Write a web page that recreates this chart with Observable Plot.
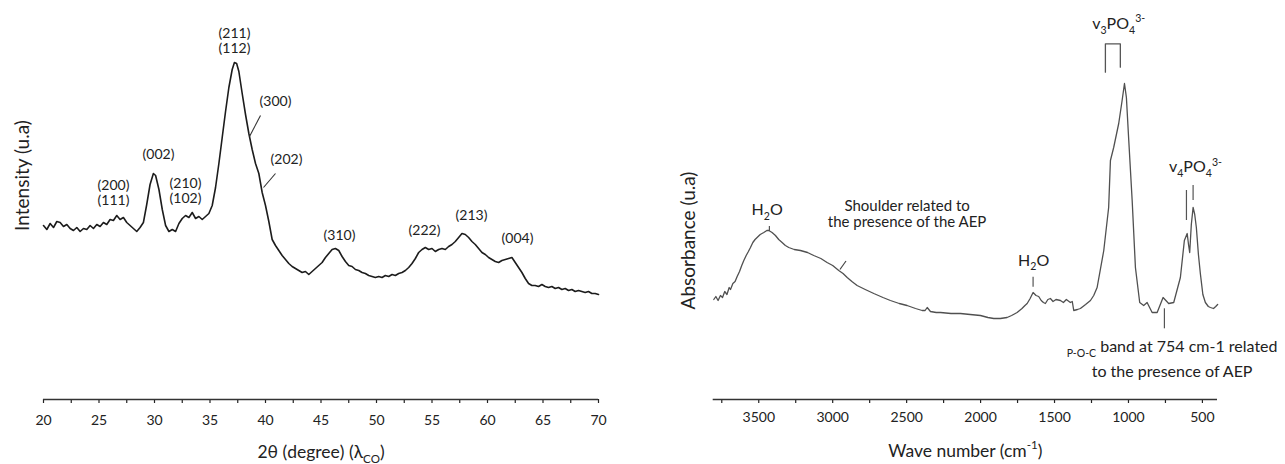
<!DOCTYPE html>
<html><head><meta charset="utf-8">
<script src="https://cdn.jsdelivr.net/npm/d3@7"></script>
<script src="https://cdn.jsdelivr.net/npm/@observablehq/plot@0.6"></script>
<style>
html,body{margin:0;padding:0;background:#fff;}
#wrap{display:flex;width:1285px;height:464px;overflow:hidden;}
</style></head><body><div id="wrap"></div>
<script>
// ---------- XRD (left) ----------
const xrdTheta = [20.0,20.3,20.6,20.9,21.2,21.5,21.8,22.1,22.4,22.7,23.0,23.3,23.6,23.9,24.2,24.5,24.8,25.1,25.4,25.7,26.0,26.3,26.6,26.9,27.2,27.5,27.8,28.1,28.4,28.7,29.0,29.3,29.6,29.9,30.1,30.4,30.7,31.0,31.3,31.6,31.9,32.2,32.5,32.8,33.1,33.4,33.7,34.0,34.3,34.6,34.9,35.2,35.5,35.8,36.1,36.4,36.7,37.0,37.2,37.4,37.6,37.9,38.2,38.5,38.8,39.1,39.4,39.7,40.0,40.3,40.6,40.9,41.2,41.5,41.8,42.1,42.4,42.7,43.0,43.3,43.6,43.9,44.2,44.5,44.8,45.1,45.4,45.7,46.0,46.3,46.6,46.9,47.2,47.5,47.8,48.1,48.4,48.7,49.0,49.3,49.6,49.9,50.2,50.5,50.8,51.1,51.4,51.7,52.0,52.3,52.6,52.9,53.2,53.5,53.8,54.1,54.4,54.7,55.0,55.3,55.6,55.9,56.2,56.5,56.8,57.1,57.4,57.7,58.0,58.3,58.6,58.9,59.2,59.5,59.8,60.1,60.4,60.7,61.0,61.3,61.6,61.9,62.2,62.5,62.8,63.1,63.4,63.7,64.0,64.3,64.6,64.9,65.2,65.5,65.8,66.1,66.4,66.7,67.0,67.3,67.6,67.9,68.2,68.5,68.8,69.1,69.4,69.7,70.0];
const xrdIntensity = [174,170,176,172,178,177,173,175,171,169,172,168,171,170,174,171,175,173,177,175,180,179,184,180,182,177,174,171,168,172,177,195,215,226,224,210,190,174,168,170,168,176,181,184,182,187,181,183,180,183,186,194,212,236,262,288,312,330,337,336,328,306,285,266,250,236,226,207,194,178,160,154,149,144,140,136,133,131,129,127,128,125,128,131,134,137,142,146,150,151,149,143,138,134,133,130,129,127,126,124,123,122,123,122,124,123,125,124,126,127,129,132,136,141,147,150,152,150,151,148,150,151,150,153,155,158,162,166,165,162,158,155,151,147,145,142,140,138,137,139,140,141,142,137,132,127,121,116,114,114,113,115,113,112,113,111,112,110,111,109,110,108,109,108,107,108,106,106,105];
const xrdMajorTicks = [20,25,30,35,40,45,50,55,60,65,70];
const xrdMinorTicks = [22.5,27.5,32.5,37.5,42.5,47.5,52.5,57.5,62.5,67.5];
const xrdLabels = ["(200)\n(111)","(002)","(210)\n(102)","(211)\n(112)","(300)","(202)","(310)","(222)","(213)","(004)"];
const xrdLabelX = [26.31,30.36,32.79,37.21,40.9,41.89,46.67,54.32,58.56,62.7];
const xrdLabelY = [207,245,209,358.5,298,240,164,169,184,161];
const xrdLeadX1 = [39.55,40.9], xrdLeadY1 = [284,226], xrdLeadX2 = [38.56,39.82], xrdLeadY2 = [263,212];
const xrdXTitle = "2θ (degree) (λ_{CO})";
const xrdYTitle = "Intensity (u.a)";

// ---------- FTIR (right) ----------
const ftirWave = [3804,3790,3775,3759,3745,3730,3715,3700,3691,3675,3660,3646,3630,3615,3601,3585,3570,3556,3540,3525,3511,3490,3466,3445,3432,3410,3387,3365,3342,3320,3297,3260,3218,3170,3128,3080,3038,3000,2959,2930,2902,2870,2835,2780,2722,2660,2610,2550,2497,2440,2395,2375,2361,2350,2339,2300,2271,2200,2136,2070,2001,1950,1911,1866,1821,1790,1753,1720,1700,1685,1665,1645,1625,1607,1590,1575,1562,1545,1528,1510,1490,1460,1440,1420,1393,1380,1370,1345,1325,1290,1257,1235,1212,1167,1134,1122,1100,1066,1043,1027,1014,998,975,953,924,897,874,840,806,766,728,694,649,622,603,594,586,575,563,552,541,527,514,497,480,460,446,425,410,397];
const ftirAbs = [100,103,99,104,102,108,105,112,110,116,118,123,128,134,139,144,148,152,157,160,162,165,167,169,169,167,164,160,157,154,152,150,149,147,144,141,137,134,129,126,122,118,114,110,106,102,99,96,94,91,89,89,92,90,88,87,87,86,86,85,84,82,81,81,82,84,87,91,94,96,101,107,104,103,99,97,96,100,101,98,100,99,97,100,97,98,89,90,91,95,99,104,112,149,192,239,252,276,299,316,302,259,199,132,97,94,97,87,87,102,96,97,122,159,166,155,147,175,192,185,172,145,126,105,97,93,92,91,93,95];
const ftirMajorTicks = [3500,3000,2500,2000,1500,1000,500];
const ftirMinorTicks = [3750,3250,2750,2250,1750,1250,750];
const ftirLabels = ["H_{2}O","H_{2}O","v_{3}PO_{4}^{3-}","v_{4}PO_{4}^{3-}"];
const ftirLabelX = [3443,1641,1066,547];
const ftirLabelY = [189.7,139,375.7,232.3];
const ftirShoulder = "Shoulder related to\nthe presence of the AEP";
const ftirShoulderX = 2497, ftirShoulderY = 185.5;
const ftirPOC = "_{P-O-C} band at 754 cm-1 related\nto the presence of AEP";
const ftirPOCX = 705, ftirPOCY = 43.2;
const ftirTickX = [3428,1645,608,563,757];
const ftirTickY1 = [168,112.3,179,199,70.7];
const ftirTickY2 = [173,122.3,209,214,90.7];
const ftirLeadX1 = [2910], ftirLeadY1 = [138.5], ftirLeadX2 = [2951], ftirLeadY2 = [130];
const ftirBracketX = [1156,1156,1055,1055];
const ftirBracketY = [327.3,355.7,355.7,332.3];
const ftirXTitle = "Wave number (cm^{-1})";
const ftirYTitle = "Absorbance (u.a)";

const FONT = "Lato, 'Open Sans', sans-serif";
const INK = "#222";

const xrd = xrdTheta.map((t, i) => ({t, v: xrdIntensity[i]}));
const ftir = ftirWave.map((w, i) => ({w, v: ftirAbs[i]}));
const idx = a => a.map((_, i) => i);

const left = Plot.plot({
  width: 640, height: 464,
  marginLeft: 43, marginRight: 42, marginTop: 20, marginBottom: 65,
  style: {fontFamily: FONT, color: INK, background: "white", overflow: "visible"},
  x: {domain: [20, 70]},
  y: {domain: [0, 379], axis: null},
  marks: [
    Plot.axisX({ticks: xrdMajorTicks, tickSize: 4, tickPadding: 12, fontSize: 14, label: null, strokeWidth: 1.2, tickFormat: d => String(d)}),
    Plot.axisX({ticks: xrdMinorTicks, tickSize: 4, tickFormat: () => "", label: null, strokeWidth: 1.2}),
    Plot.ruleY([0], {stroke: "#333", strokeWidth: 1.5}),
    Plot.line(xrd, {x: "t", y: "v", stroke: "#1c1c1c", strokeWidth: 1.6, strokeLinejoin: "round"}),
    Plot.link(idx(xrdLeadX1), {x1: i => xrdLeadX1[i], y1: i => xrdLeadY1[i], x2: i => xrdLeadX2[i], y2: i => xrdLeadY2[i], stroke: "#333", strokeWidth: 1.1}),
    Plot.text(idx(xrdLabels), {x: i => xrdLabelX[i], y: i => xrdLabelY[i], text: i => xrdLabels[i], fontSize: 14, lineHeight: 1.07, fill: INK}),
    Plot.text([xrdXTitle], {frameAnchor: "bottom", textAnchor: "middle", lineAnchor: "bottom", dy: 58, fontSize: 17.5, fill: INK}),
    Plot.text([xrdYTitle], {frameAnchor: "left", textAnchor: "middle", lineAnchor: "middle", rotate: -90, dx: -21, dy: -34.5, fontSize: 19, fill: INK})
  ]
});

const right = Plot.plot({
  width: 645, height: 464,
  marginLeft: 72.7, marginRight: 68, marginTop: 20, marginBottom: 65,
  style: {fontFamily: FONT, color: INK, background: "white", overflow: "visible"},
  x: {domain: [3808, 398]},
  y: {domain: [0, 379], axis: null},
  marks: [
    Plot.axisX({ticks: ftirMajorTicks, tickSize: 4, tickPadding: 9, fontSize: 14, label: null, strokeWidth: 1.2, tickFormat: d => String(d)}),
    Plot.axisX({ticks: ftirMinorTicks, tickSize: 4, tickFormat: () => "", label: null, strokeWidth: 1.2}),
    Plot.ruleY([0], {stroke: "#333", strokeWidth: 1.5}),
    Plot.line(ftir, {x: "w", y: "v", stroke: "#505050", strokeWidth: 1.3, strokeLinejoin: "round"}),
    Plot.ruleX(idx(ftirTickX), {x: i => ftirTickX[i], y1: i => ftirTickY1[i], y2: i => ftirTickY2[i], stroke: "#555", strokeWidth: 1.2}),
    Plot.link(idx(ftirLeadX1), {x1: i => ftirLeadX1[i], y1: i => ftirLeadY1[i], x2: i => ftirLeadX2[i], y2: i => ftirLeadY2[i], stroke: "#444", strokeWidth: 1.2}),
    Plot.line(idx(ftirBracketX), {x: i => ftirBracketX[i], y: i => ftirBracketY[i], stroke: "#555", strokeWidth: 1.3}),
    Plot.text(idx(ftirLabels), {x: i => ftirLabelX[i], y: i => ftirLabelY[i], text: i => ftirLabels[i], fontSize: 16, fill: INK}),
    Plot.text([ftirShoulder], {x: () => ftirShoulderX, y: () => ftirShoulderY, fontSize: 15, lineHeight: 1.05, fill: INK}),
    Plot.text([ftirPOC], {x: () => ftirPOCX, y: () => ftirPOCY, fontSize: 16, lineHeight: 1.56, fill: INK}),
    Plot.text([ftirXTitle], {frameAnchor: "bottom", textAnchor: "middle", lineAnchor: "bottom", dy: 57, fontSize: 17.5, fill: INK}),
    Plot.text([ftirYTitle], {frameAnchor: "left", textAnchor: "middle", lineAnchor: "middle", rotate: -90, dx: -24.7, dy: 30.5, fontSize: 19, fill: INK})
  ]
});

const wrap = document.getElementById("wrap");
wrap.appendChild(left);
wrap.appendChild(right);

// turn _{..} and ^{..} markers into subscript / superscript tspans
const NS = "http://www.w3.org/2000/svg";
function richify(svg) {
  svg.querySelectorAll("text").forEach(t => {
    const tspans = Array.from(t.querySelectorAll("tspan"));
    const targets = tspans.length ? tspans : [t];
    targets.forEach(el => {
      const s = el.textContent;
      if (!/[_^]\{/.test(s)) return;
      const fs = parseFloat(getComputedStyle(el).fontSize) || 14;
      const re = /([_^])\{([^}]*)\}|([^_^]+|[_^])/g;
      const segs = [];
      let m;
      while ((m = re.exec(s))) segs.push(m[1] ? {mode: m[1], text: m[2]} : {mode: "", text: m[3]});
      el.textContent = "";
      let cur = 0;
      segs.forEach(sg => {
        const ts = document.createElementNS(NS, "tspan");
        const target = sg.mode === "_" ? 0.3 * fs : sg.mode === "^" ? -0.42 * fs : 0;
        if (sg.mode) ts.setAttribute("font-size", (0.66 * fs).toFixed(2));
        if (target !== cur) ts.setAttribute("dy", (target - cur).toFixed(2));
        cur = target;
        ts.textContent = sg.text;
        el.appendChild(ts);
      });
    });
  });
}
richify(left);
richify(right);
</script>
</body></html>
